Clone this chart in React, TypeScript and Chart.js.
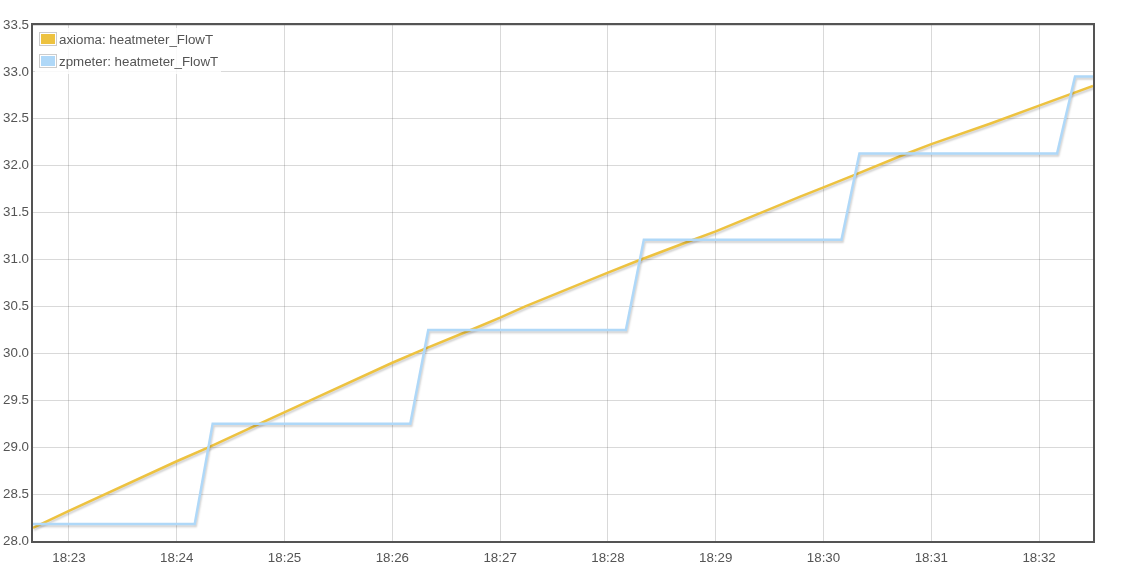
import React, { useEffect, useRef } from "react";
import { Chart, registerables } from "chart.js";

Chart.register(...registerables);

const seriesLabels = ["axioma: heatmeter_FlowT", "zpmeter: heatmeter_FlowT"];
const seriesColors = ["#edc240", "#afd8f8"];

const axiomaTimes = [
  "18:22:40", "18:23:00", "18:24:00", "18:24:18", "18:24:45", "18:25:18",
  "18:26:00", "18:26:17", "18:26:45", "18:27:00", "18:27:14",
  "18:28:00", "18:28:17", "18:28:46", "18:29:00", "18:29:47", "18:30:00",
  "18:30:17", "18:30:45", "18:31:00", "18:31:33", "18:32:00", "18:32:30",
];
const axiomaValues = [
  28.14, 28.32, 28.85, 29.0, 29.24, 29.53,
  29.9, 30.04, 30.26, 30.38, 30.5,
  30.86, 30.99, 31.2, 31.3, 31.67, 31.77,
  31.9, 32.12, 32.23, 32.45, 32.64, 32.85,
];

const zpmeterTimes = [
  "18:22:40", "18:24:10", "18:24:20", "18:26:10", "18:26:20", "18:28:10",
  "18:28:20", "18:30:10", "18:30:20", "18:32:10", "18:32:20", "18:32:30",
];
const zpmeterValues = [
  28.18, 28.18, 29.25, 29.25, 30.25, 30.25,
  31.21, 31.21, 32.13, 32.13, 32.95, 32.95,
];

const xTickLabels = ["18:23", "18:24", "18:25", "18:26", "18:27", "18:28", "18:29", "18:30", "18:31", "18:32"];
const xRange = ["18:22:40", "18:32:30"];
const yMin = 28.0;
const yMax = 33.5;
const yStep = 0.5;

const FONT = '"Liberation Sans", Arial, sans-serif';
const TEXT = "#545454";
const FSIZE = 13.33;

function toSec(t: string): number {
  const p = t.split(":").map(Number);
  return p[0] * 3600 + p[1] * 60 + (p[2] || 0);
}
function fmt(s: number): string {
  const h = Math.floor(s / 3600);
  const m = Math.round((s % 3600) / 60);
  return `${h}:${String(m).padStart(2, "0")}`;
}

const shadowPlugin = {
  id: "flotShadow",
  beforeDatasetDraw(chart: any) {
    const ctx = chart.ctx;
    ctx.save();
    ctx.shadowColor = "rgba(0,0,0,0.18)";
    ctx.shadowOffsetX = 1;
    ctx.shadowOffsetY = 2;
    ctx.shadowBlur = 2;
  },
  afterDatasetDraw(chart: any) {
    chart.ctx.restore();
  },
};

const frameLegendPlugin = {
  id: "frameLegend",
  afterDraw(chart: any) {
    const ctx = chart.ctx;
    const a = chart.chartArea;
    ctx.save();
    ctx.strokeStyle = "#545454";
    ctx.lineWidth = 2;
    ctx.strokeRect(a.left - 1, a.top - 1, a.right - a.left + 2, a.bottom - a.top + 2);

    // legend
    const lx = a.left + 2;
    const ly = a.top + 3;
    ctx.fillStyle = "rgba(255,255,255,0.85)";
    ctx.fillRect(lx, ly, 186, 46);
    ctx.font = `${FSIZE}px ${FONT}`;
    ctx.textBaseline = "middle";
    ctx.textAlign = "left";
    seriesLabels.forEach((label, i) => {
      const bx = a.left + 6;
      const by = a.top + 7 + i * 22;
      ctx.strokeStyle = "#cccccc";
      ctx.lineWidth = 1;
      ctx.strokeRect(bx + 0.5, by + 0.5, 17, 13);
      ctx.fillStyle = seriesColors[i];
      ctx.fillRect(bx + 2, by + 2, 14, 10);
      ctx.fillStyle = TEXT;
      ctx.fillText(label, bx + 20, by + 8.5);
    });
    ctx.restore();
  },
};

export default function App() {
  const ref = useRef<HTMLCanvasElement | null>(null);

  useEffect(() => {
    if (!ref.current) return;
    const axioma = axiomaTimes.map((t, i) => ({ x: toSec(t), y: axiomaValues[i] }));
    const zp = zpmeterTimes.map((t, i) => ({ x: toSec(t), y: zpmeterValues[i] }));
    const tickVals = xTickLabels.map((t) => toSec(t));

    const chart = new Chart(ref.current, {
      type: "line",
      data: {
        datasets: [
          {
            label: seriesLabels[0],
            data: axioma,
            borderColor: seriesColors[0],
            borderWidth: 2.5,
            pointRadius: 0,
            tension: 0,
            fill: false,
            order: 1,
            borderJoinStyle: "round",
          },
          {
            label: seriesLabels[1],
            data: zp,
            borderColor: seriesColors[1],
            borderWidth: 2.5,
            pointRadius: 0,
            tension: 0,
            fill: false,
            order: 0,
            borderJoinStyle: "miter",
          },
        ],
      },
      options: {
        animation: false,
        responsive: false,
        devicePixelRatio: 1,
        parsing: false,
        normalized: true,
        layout: { padding: { top: 25, right: 40, left: 0, bottom: 0 } },
        plugins: {
          legend: { display: false },
          tooltip: { enabled: false },
        },
        scales: {
          x: {
            type: "linear",
            min: toSec(xRange[0]),
            max: toSec(xRange[1]),
            afterBuildTicks: (scale: any) => {
              scale.ticks = tickVals.map((v) => ({ value: v }));
            },
            afterFit: (scale: any) => {
              scale.height = 40;
            },
            grid: { color: "rgba(84,84,84,0.22)", drawTicks: false, lineWidth: 1 },
            border: { display: false },
            ticks: {
              autoSkip: false,
              maxRotation: 0,
              padding: 9,
              color: TEXT,
              font: { family: FONT, size: FSIZE },
              callback: (v: any) => fmt(Number(v)),
            },
          },
          y: {
            type: "linear",
            min: yMin,
            max: yMax,
            afterFit: (scale: any) => {
              scale.width = 33;
            },
            grid: { color: "rgba(84,84,84,0.22)", drawTicks: false, lineWidth: 1 },
            border: { display: false },
            ticks: {
              stepSize: yStep,
              padding: 4,
              color: TEXT,
              font: { family: FONT, size: FSIZE },
              callback: (v: any) => Number(v).toFixed(1),
            },
          },
        },
      },
      plugins: [shadowPlugin, frameLegendPlugin],
    } as any);

    return () => chart.destroy();
  }, []);

  return (
    <div style={{ position: "absolute", left: 0, top: 0, width: 1133, height: 581, background: "#fff" }}>
      <canvas ref={ref} width={1133} height={581} style={{ width: 1133, height: 581, display: "block" }} />
    </div>
  );
}
